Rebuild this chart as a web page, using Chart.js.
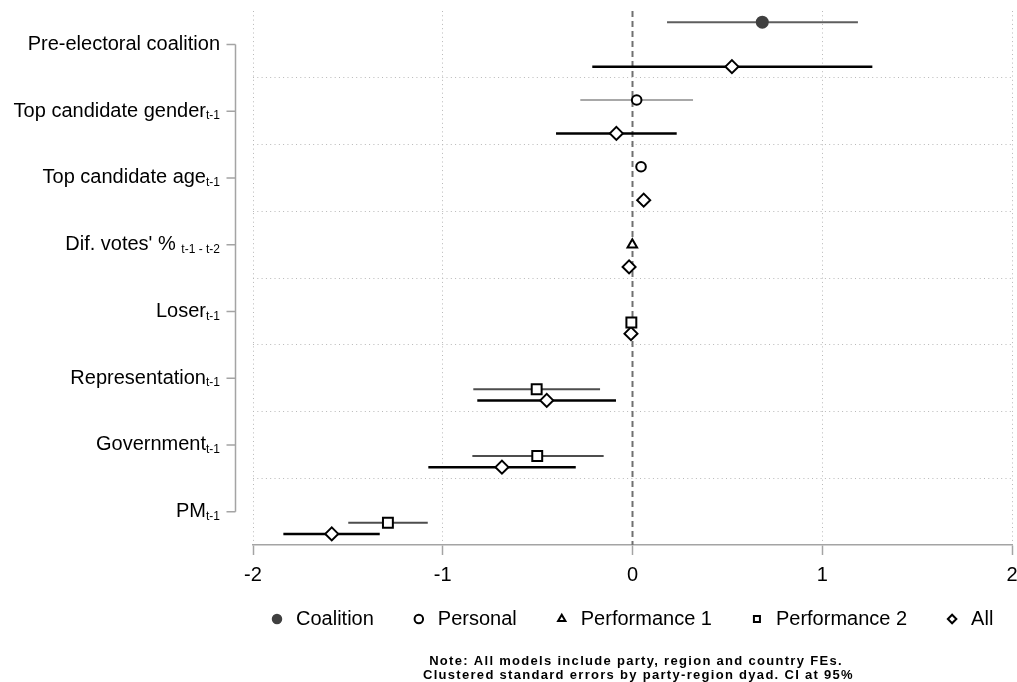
<!DOCTYPE html>
<html>
<head>
<meta charset="utf-8">
<script src="https://cdn.jsdelivr.net/npm/chart.js@4.4.0/dist/chart.umd.min.js"></script>
<style>
  html, body { margin: 0; padding: 0; background: #fff; }
  #wrap { width: 1017px; height: 682px; }
</style>
</head>
<body>
<div id="wrap"><canvas id="canvas"></canvas></div>
<script>
// coefficients (null = not in that model)
const categories = ["Pre-electoral coalition", "Top candidate gender", "Top candidate age", "Dif. votes' % ",
                    "Loser", "Representation", "Government", "PM"];
const subscripts = ["", "t-1", "t-1", "t-1 - t-2", "t-1", "t-1", "t-1", "t-1"];
const models = ["Coalition", "Personal", "Performance 1", "Performance 2", "All"];
const xTicks = [-2, -1, 0, 1, 2];
const noteLines = ["Note: All models include party, region and country FEs.",
                   " Clustered standard errors by party-region dyad. CI at 95%"];

const coalitionEst = [0.684, null, null, null, null, null, null, null];
const coalitionLo  = [0.182, null, null, null, null, null, null, null];
const coalitionHi  = [1.188, null, null, null, null, null, null, null];

const personalEst = [null, 0.022, 0.045, null, null, null, null, null];
const personalLo  = [null, -0.275, 0.038, null, null, null, null, null];
const personalHi  = [null, 0.319, 0.052, null, null, null, null, null];

const perf1Est = [null, null, null, -0.001, null, null, null, null];
const perf1Lo  = [null, null, null, -0.008, null, null, null, null];
const perf1Hi  = [null, null, null, 0.006, null, null, null, null];

const perf2Est = [null, null, null, null, -0.006, -0.505, -0.502, -1.289];
const perf2Lo  = [null, null, null, null, -0.012, -0.839, -0.844, -1.498];
const perf2Hi  = [null, null, null, null, 0.000, -0.171, -0.152, -1.079];

const allEst = [0.524, -0.085, 0.059, -0.018, -0.008, -0.452, -0.688, -1.585];
const allLo  = [-0.212, -0.403, 0.050, -0.025, -0.014, -0.818, -1.076, -1.840];
const allHi  = [1.264, 0.233, 0.068, -0.011, -0.002, -0.087, -0.299, -1.332];

const estimates = [coalitionEst, personalEst, perf1Est, perf2Est, allEst];
const lows = [coalitionLo, personalLo, perf1Lo, perf2Lo, allLo];
const highs = [coalitionHi, personalHi, perf1Hi, perf2Hi, allHi];

// look of each model
const dodge = [-1/3, -1/6, 0, 1/6, 1/3];
const looks = [
    { style: "circle", r: 5.5, fill: "#404040", line: "#404040", ci: "#5e5e5e", ciW: 2 },
    { style: "circle", r: 4.8, fill: "#ffffff", line: "#000000", ci: "#a8a8a8", ciW: 2 },
    { style: "triangle", r: 5.5, fill: "#ffffff", line: "#000000", ci: "#000000", ciW: 2 },
    { style: "rect", r: 7, fill: "#ffffff", line: "#000000", ci: "#4d4d4d", ciW: 2 },
    { style: "rectRot", r: 6.5, fill: "#ffffff", line: "#000000", ci: "#000000", ciW: 2.5 }
];

const FONT = '"Liberation Sans", Arial, sans-serif';
const LEGEND_PAD = 36;

let datasets = [];
models.forEach((m, k) => {
    const pts = [];
    estimates[k].forEach((v, i) => {
        if (v !== null) pts.push({ x: v, y: i + dodge[k] });
    });
    datasets.push({
        label: m,
        data: pts,
        pointStyle: looks[k].style,
        pointRadius: looks[k].r,
        backgroundColor: looks[k].fill,
        borderColor: looks[k].line,
        borderWidth: 2,
        order: 0
    });
});
models.forEach((m, k) => {
    estimates[k].forEach((v, i) => {
        if (v === null) return;
        datasets.push({
            label: "ci",
            data: [{ x: lows[k][i], y: i + dodge[k] }, { x: highs[k][i], y: i + dodge[k] }],
            showLine: true,
            pointRadius: 0,
            borderColor: looks[k].ci,
            borderWidth: looks[k].ciW,
            order: 1
        });
    });
});
// zero reference line
datasets.push({
    label: "zero",
    data: [{ x: 0, y: -0.5 }, { x: 0, y: categories.length - 0.5 }],
    showLine: true,
    pointRadius: 0,
    borderColor: "#707070",
    borderWidth: 2,
    borderDash: [6, 4],
    order: 2
});

// category labels with subscripts, left axis, and the note underneath
const extras = {
    id: "extras",
    beforeDraw(chart) {
        // put the legend row where the original has it
        chart.legend.left = 268 - LEGEND_PAD;
        chart.legend.right = 1100;
        chart.legend.top = 619 - LEGEND_PAD - 10;
    },
    afterDraw(chart) {
        const ctx = chart.ctx;
        const ys = chart.scales.y;
        const axisX = 235.5, right = 220;
        ctx.save();
        ctx.strokeStyle = "#a4a4a4";
        ctx.lineWidth = 1.5;
        ctx.beginPath();
        ctx.moveTo(axisX, ys.getPixelForValue(0));
        ctx.lineTo(axisX, ys.getPixelForValue(categories.length - 1));
        categories.forEach((c, i) => {
            const y = ys.getPixelForValue(i);
            ctx.moveTo(axisX - 9, y);
            ctx.lineTo(axisX, y);
        });
        ctx.stroke();
        ctx.fillStyle = "#000";
        ctx.textBaseline = "middle";
        ctx.textAlign = "right";
        categories.forEach((c, i) => {
            const y = ys.getPixelForValue(i);
            ctx.font = "12px " + FONT;
            let w = 0;
            if (subscripts[i]) {
                w = ctx.measureText(subscripts[i]).width;
                ctx.fillText(subscripts[i], right, y + 5);
            }
            ctx.font = "20px " + FONT;
            ctx.fillText(c, right - w, y);
        });

        ctx.font = "bold 13px " + FONT;
        ctx.textAlign = "center";
        if ("letterSpacing" in ctx) ctx.letterSpacing = "1.3px";
        noteLines.forEach((t, i) => ctx.fillText(t, 636, 661 + i * 14));
        ctx.restore();
    }
};

new Chart(document.getElementById("canvas"), {
    type: "scatter",
    data: { datasets: datasets },
    options: {
        responsive: true,
        maintainAspectRatio: false,
        animation: false,
        layout: { autoPadding: false, padding: { left: 0, right: 5, top: 11, bottom: 26 } },
        scales: {
            x: {
                min: -2,
                max: 2,
                afterBuildTicks: s => { s.ticks = xTicks.map(v => ({ value: v })); },
                afterFit: s => { s.height = 45; s.paddingRight = 0; },
                grid: {
                    color: ctx => ctx.tick && ctx.tick.value === 0 ? "rgba(0,0,0,0)" : "#b8b8b8",
                    lineWidth: 1,
                    drawTicks: true,
                    tickLength: 10,
                    tickColor: "#a4a4a4",
                    tickWidth: 1.5
                },
                border: { display: true, color: "#a4a4a4", width: 1.5, dash: [1, 3.3] },
                ticks: { color: "#000", font: { size: 20, family: FONT }, padding: 8 }
            },
            y: {
                reverse: true,
                min: -0.5,
                max: categories.length - 0.5,
                afterBuildTicks: s => {
                    s.ticks = categories.slice(1).map((c, i) => ({ value: i + 0.5 }));
                },
                afterFit: s => { s.width = 253; },
                grid: { color: "#b8b8b8", lineWidth: 1, drawTicks: false },
                border: { display: false, dash: [1, 3.3] },
                ticks: { display: false }
            }
        },
        plugins: {
            tooltip: { enabled: false },
            title: { display: false },
            legend: {
                position: "bottom",
                align: "start",
                labels: {
                    filter: item => item.datasetIndex < models.length,
                    usePointStyle: true,
                    boxWidth: 18,
                    boxHeight: 6,
                    padding: LEGEND_PAD,
                    color: "#000",
                    font: { size: 20, family: FONT }
                }
            }
        }
    },
    plugins: [extras]
});
</script>
</body>
</html>
